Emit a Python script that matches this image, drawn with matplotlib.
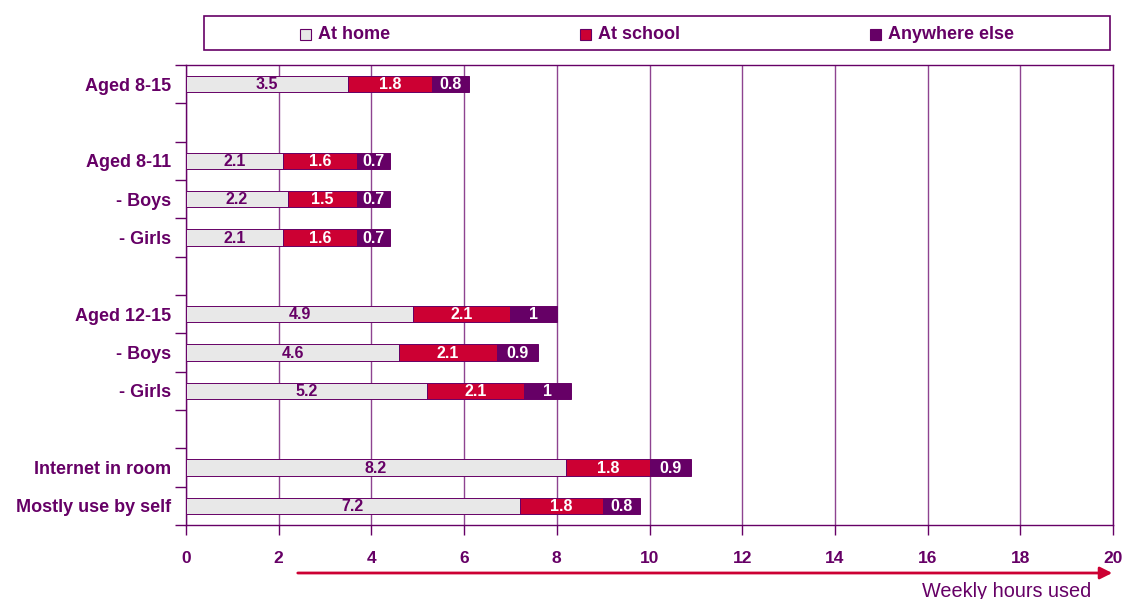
import matplotlib.pyplot as plt
from matplotlib.patches import Rectangle, FancyArrowPatch

# rows of the chart, '' marks an empty spacer slot
categories = ['Aged 8-15', '', 'Aged 8-11', '- Boys', '- Girls', '',
              'Aged 12-15', '- Boys', '- Girls', '',
              'Internet in room', 'Mostly use by self']
at_home = [3.5, None, 2.1, 2.2, 2.1, None, 4.9, 4.6, 5.2, None, 8.2, 7.2]
at_school = [1.8, None, 1.6, 1.5, 1.6, None, 2.1, 2.1, 2.1, None, 1.8, 1.8]
anywhere_else = [0.8, None, 0.7, 0.7, 0.7, None, 1, 0.9, 1, None, 0.9, 0.8]

series_names = ['At home', 'At school', 'Anywhere else']
series_colors = ['#E8E8E8', '#CC0033', '#660066']
label_colors = ['#660066', 'white', 'white']
x_ticks = [0, 2, 4, 6, 8, 10, 12, 14, 16, 18, 20]

PURPLE = '#660066'
GRID = '#8E4390'

plt.rcParams['font.family'] = ['Liberation Sans', 'DejaVu Sans']

fig = plt.figure(figsize=(11.22, 5.99), dpi=100)
ax = fig.add_axes([186 / 1122, 74 / 599, 927 / 1122, 460 / 599])

rows = [i for i, c in enumerate(categories) if c]
series = [at_home, at_school, anywhere_else]
left = [0.0] * len(rows)
for vals, name, col, lcol in zip(series, series_names, series_colors, label_colors):
    widths = [vals[i] for i in rows]
    bars = ax.barh(rows, widths, left=left, height=0.42, color=col,
                   edgecolor=PURPLE, linewidth=0.7, zorder=3, label=name)
    for b, w in zip(bars, widths):
        ax.text(b.get_x() + w / 2, b.get_y() + b.get_height() / 2 + 0.02,
                f'{w:g}', ha='center', va='center', color=lcol,
                fontsize=11.5, fontweight='bold', zorder=4)
    left = [l + w for l, w in zip(left, widths)]

ax.set_xlim(0, 20)
ax.set_ylim(len(categories) - 0.5, -0.5)
ax.set_xticks(x_ticks)
ax.set_xticklabels([str(t) for t in x_ticks])
ax.set_yticks(rows)
ax.set_yticklabels([categories[i] for i in rows])
ax.set_yticks([i - 0.5 for i in range(len(categories) + 1)], minor=True)
ax.tick_params(axis='y', which='major', length=0, pad=11, labelsize=13,
               labelcolor=PURPLE)
ax.tick_params(axis='y', which='minor', length=8, color=PURPLE, width=1)
ax.tick_params(axis='x', length=7, color=PURPLE, width=1, pad=12,
               labelsize=12.5, labelcolor=PURPLE)
for lab in ax.get_xticklabels() + ax.get_yticklabels():
    lab.set_fontweight('bold')
ax.grid(axis='x', color=GRID, linewidth=1, zorder=0)
for sp in ax.spines.values():
    sp.set_color(PURPLE)
    sp.set_linewidth(1)

# legend box drawn across the top
fig.patches.append(Rectangle((204 / 1122, 1 - 50 / 599), 906 / 1122, 34 / 599,
                             transform=fig.transFigure, facecolor='white',
                             edgecolor=PURPLE, linewidth=1.2))
legend_x = [300, 580, 870]
for px, name, col in zip(legend_x, series_names, series_colors):
    fig.patches.append(Rectangle((px / 1122, 1 - 40 / 599), 11 / 1122, 11 / 599,
                                 transform=fig.transFigure, facecolor=col,
                                 edgecolor=PURPLE, linewidth=0.8))
    fig.text((px + 18) / 1122, 1 - 34.5 / 599, name, ha='left', va='center',
             color=PURPLE, fontsize=13, fontweight='bold')

# arrow under the axis
fig.patches.append(FancyArrowPatch((295 / 1122, 1 - 573 / 599), (1115 / 1122, 1 - 573 / 599),
                                   transform=fig.transFigure, arrowstyle='-|>',
                                   mutation_scale=18, color='#CC0033', linewidth=2))
fig.text(1091 / 1122, 1 - 597 / 599, 'Weekly hours used', ha='right', va='baseline',
         color=PURPLE, fontsize=14.3)

fig.savefig('out.png', dpi=100)
